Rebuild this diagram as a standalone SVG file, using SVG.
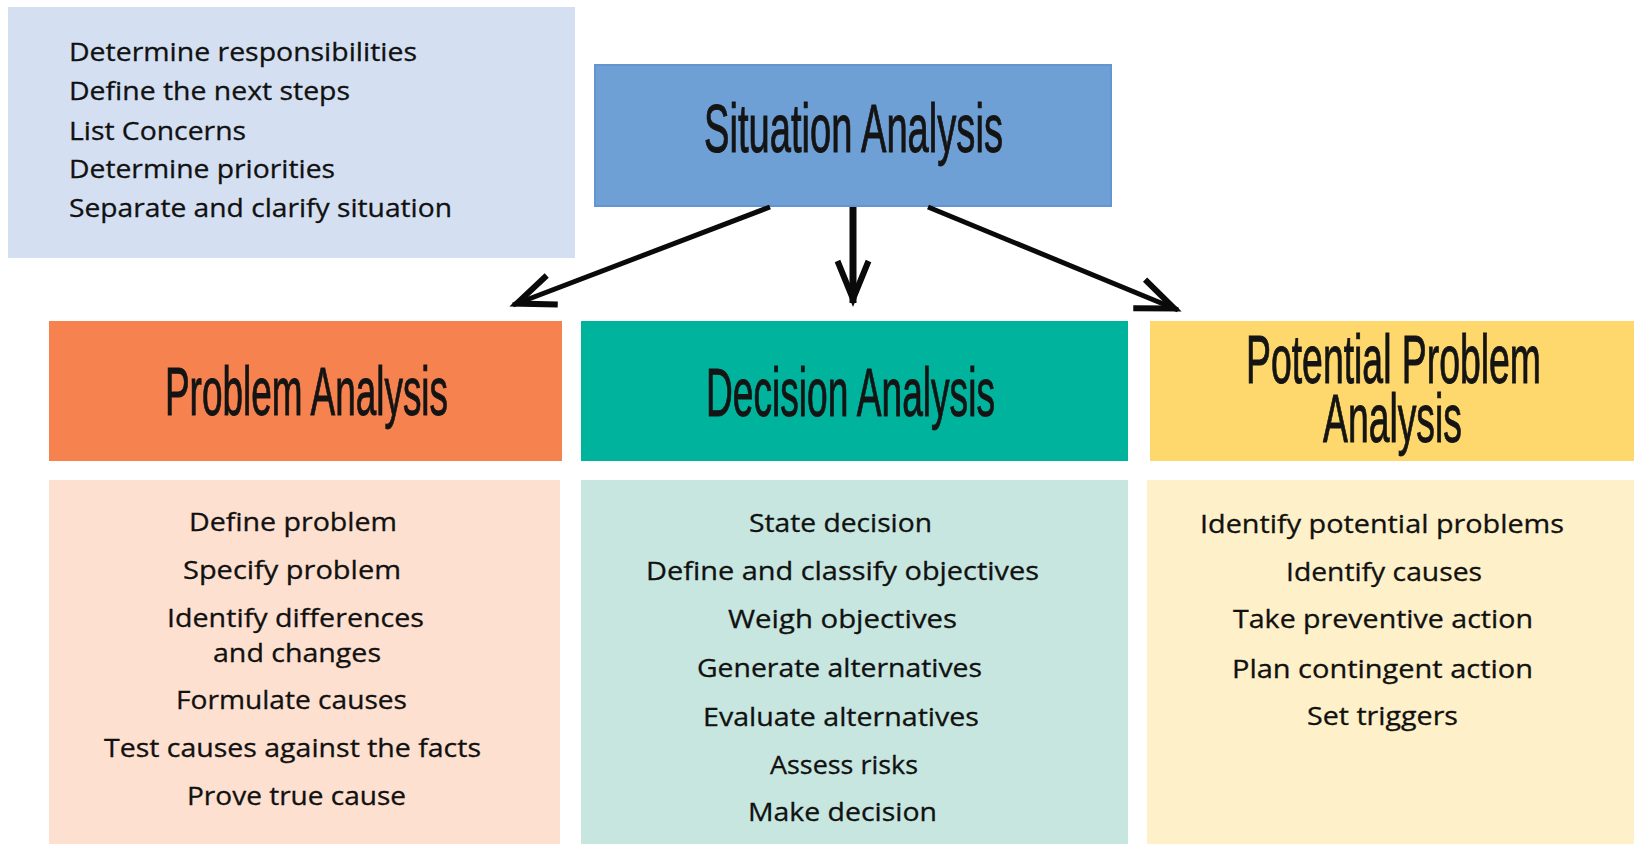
<svg xmlns="http://www.w3.org/2000/svg" width="1634" height="844" viewBox="0 0 1634 844">
  <style>
    .body { font-family: "Open Sans", "Liberation Sans", sans-serif; font-size: 25px; fill: #111111; stroke: #111111; stroke-width: 0.3px; }
    .head { font-family: "Liberation Sans Narrow", "Liberation Sans", sans-serif; font-size: 68px; fill: #141414; stroke: #141414; stroke-width: 1px; }
    .conn { stroke: #0a0a0a; fill: none; stroke-linecap: butt; }
  </style>
  <defs>
    <marker id="arrow" markerUnits="userSpaceOnUse" orient="auto" refX="0" refY="0" markerWidth="80" markerHeight="80" viewBox="-60 -40 80 80" overflow="visible">
      <path d="M-42,-15.5 L-4,0 L-42,15.5" fill="none" stroke="#0a0a0a" stroke-width="6" stroke-linejoin="miter"/>
    </marker>
  </defs>
  <rect width="1634" height="844" fill="#ffffff"/>

  <g id="notes">
    <rect x="8" y="7" width="567" height="251" fill="#d4e0f1"/>
    <text class="body" x="69" y="61" textLength="348" lengthAdjust="spacingAndGlyphs">Determine responsibilities</text>
    <text class="body" x="69" y="100" textLength="281" lengthAdjust="spacingAndGlyphs">Define the next steps</text>
    <text class="body" x="69" y="140" textLength="177" lengthAdjust="spacingAndGlyphs">List Concerns</text>
    <text class="body" x="69" y="178" textLength="266" lengthAdjust="spacingAndGlyphs">Determine priorities</text>
    <text class="body" x="69" y="217" textLength="383" lengthAdjust="spacingAndGlyphs">Separate and clarify situation</text>
  </g>

  <g id="situation">
    <rect x="595" y="65" width="516" height="141" fill="#6fa0d5" stroke="#6396d0" stroke-width="2"/>
    <text class="head" x="704" y="152" textLength="299" lengthAdjust="spacingAndGlyphs">Situation Analysis</text>
  </g>

  <g id="problem-head">
    <rect x="49" y="321" width="513" height="140" fill="#f6834f"/>
    <text class="head" x="165" y="415" textLength="283" lengthAdjust="spacingAndGlyphs">Problem Analysis</text>
  </g>

  <g id="decision-head">
    <rect x="581" y="321" width="547" height="140" fill="#00b39d"/>
    <text class="head" x="706" y="416" textLength="289" lengthAdjust="spacingAndGlyphs">Decision Analysis</text>
  </g>

  <g id="potential-head">
    <rect x="1150" y="321" width="484" height="140" fill="#fed86c"/>
    <text class="head" x="1246" y="383" textLength="295" lengthAdjust="spacingAndGlyphs">Potential Problem</text>
    <text class="head" x="1323" y="442" textLength="139" lengthAdjust="spacingAndGlyphs">Analysis</text>
  </g>

  <g id="problem-body">
    <rect x="49" y="480" width="511" height="364" fill="#fde0cf"/>
    <text class="body" x="189" y="531" textLength="208" lengthAdjust="spacingAndGlyphs">Define problem</text>
    <text class="body" x="183" y="579" textLength="218" lengthAdjust="spacingAndGlyphs">Specify problem</text>
    <text class="body" x="167" y="627" textLength="257" lengthAdjust="spacingAndGlyphs">Identify differences</text>
    <text class="body" x="213" y="662" textLength="168" lengthAdjust="spacingAndGlyphs">and changes</text>
    <text class="body" x="176" y="709" textLength="231" lengthAdjust="spacingAndGlyphs">Formulate causes</text>
    <text class="body" x="104" y="757" textLength="377" lengthAdjust="spacingAndGlyphs">Test causes against the facts</text>
    <text class="body" x="187" y="805" textLength="219" lengthAdjust="spacingAndGlyphs">Prove true cause</text>
  </g>

  <g id="decision-body">
    <rect x="581" y="480" width="547" height="364" fill="#c6e6df"/>
    <text class="body" x="749" y="532" textLength="183" lengthAdjust="spacingAndGlyphs">State decision</text>
    <text class="body" x="646" y="580" textLength="393" lengthAdjust="spacingAndGlyphs">Define and classify objectives</text>
    <text class="body" x="728" y="628" textLength="229" lengthAdjust="spacingAndGlyphs">Weigh objectives</text>
    <text class="body" x="697" y="677" textLength="285" lengthAdjust="spacingAndGlyphs">Generate alternatives</text>
    <text class="body" x="703" y="726" textLength="276" lengthAdjust="spacingAndGlyphs">Evaluate alternatives</text>
    <text class="body" x="770" y="774" textLength="148" lengthAdjust="spacingAndGlyphs">Assess risks</text>
    <text class="body" x="748" y="821" textLength="189" lengthAdjust="spacingAndGlyphs">Make decision</text>
  </g>

  <g id="potential-body">
    <rect x="1147" y="480" width="487" height="364" fill="#fef0c8"/>
    <text class="body" x="1200" y="533" textLength="364" lengthAdjust="spacingAndGlyphs">Identify potential problems</text>
    <text class="body" x="1286" y="581" textLength="196" lengthAdjust="spacingAndGlyphs">Identify causes</text>
    <text class="body" x="1233" y="628" textLength="300" lengthAdjust="spacingAndGlyphs">Take preventive action</text>
    <text class="body" x="1232" y="678" textLength="301" lengthAdjust="spacingAndGlyphs">Plan contingent action</text>
    <text class="body" x="1307" y="725" textLength="151" lengthAdjust="spacingAndGlyphs">Set triggers</text>
  </g>

  <g id="connectors">
    <path class="conn" d="M770,207 L513,305" stroke-width="5" marker-end="url(#arrow)"/>
    <path class="conn" d="M853,207 L853,303" stroke-width="7" marker-end="url(#arrow)"/>
    <path class="conn" d="M928,207 L1178,310" stroke-width="5" marker-end="url(#arrow)"/>
  </g>
</svg>
